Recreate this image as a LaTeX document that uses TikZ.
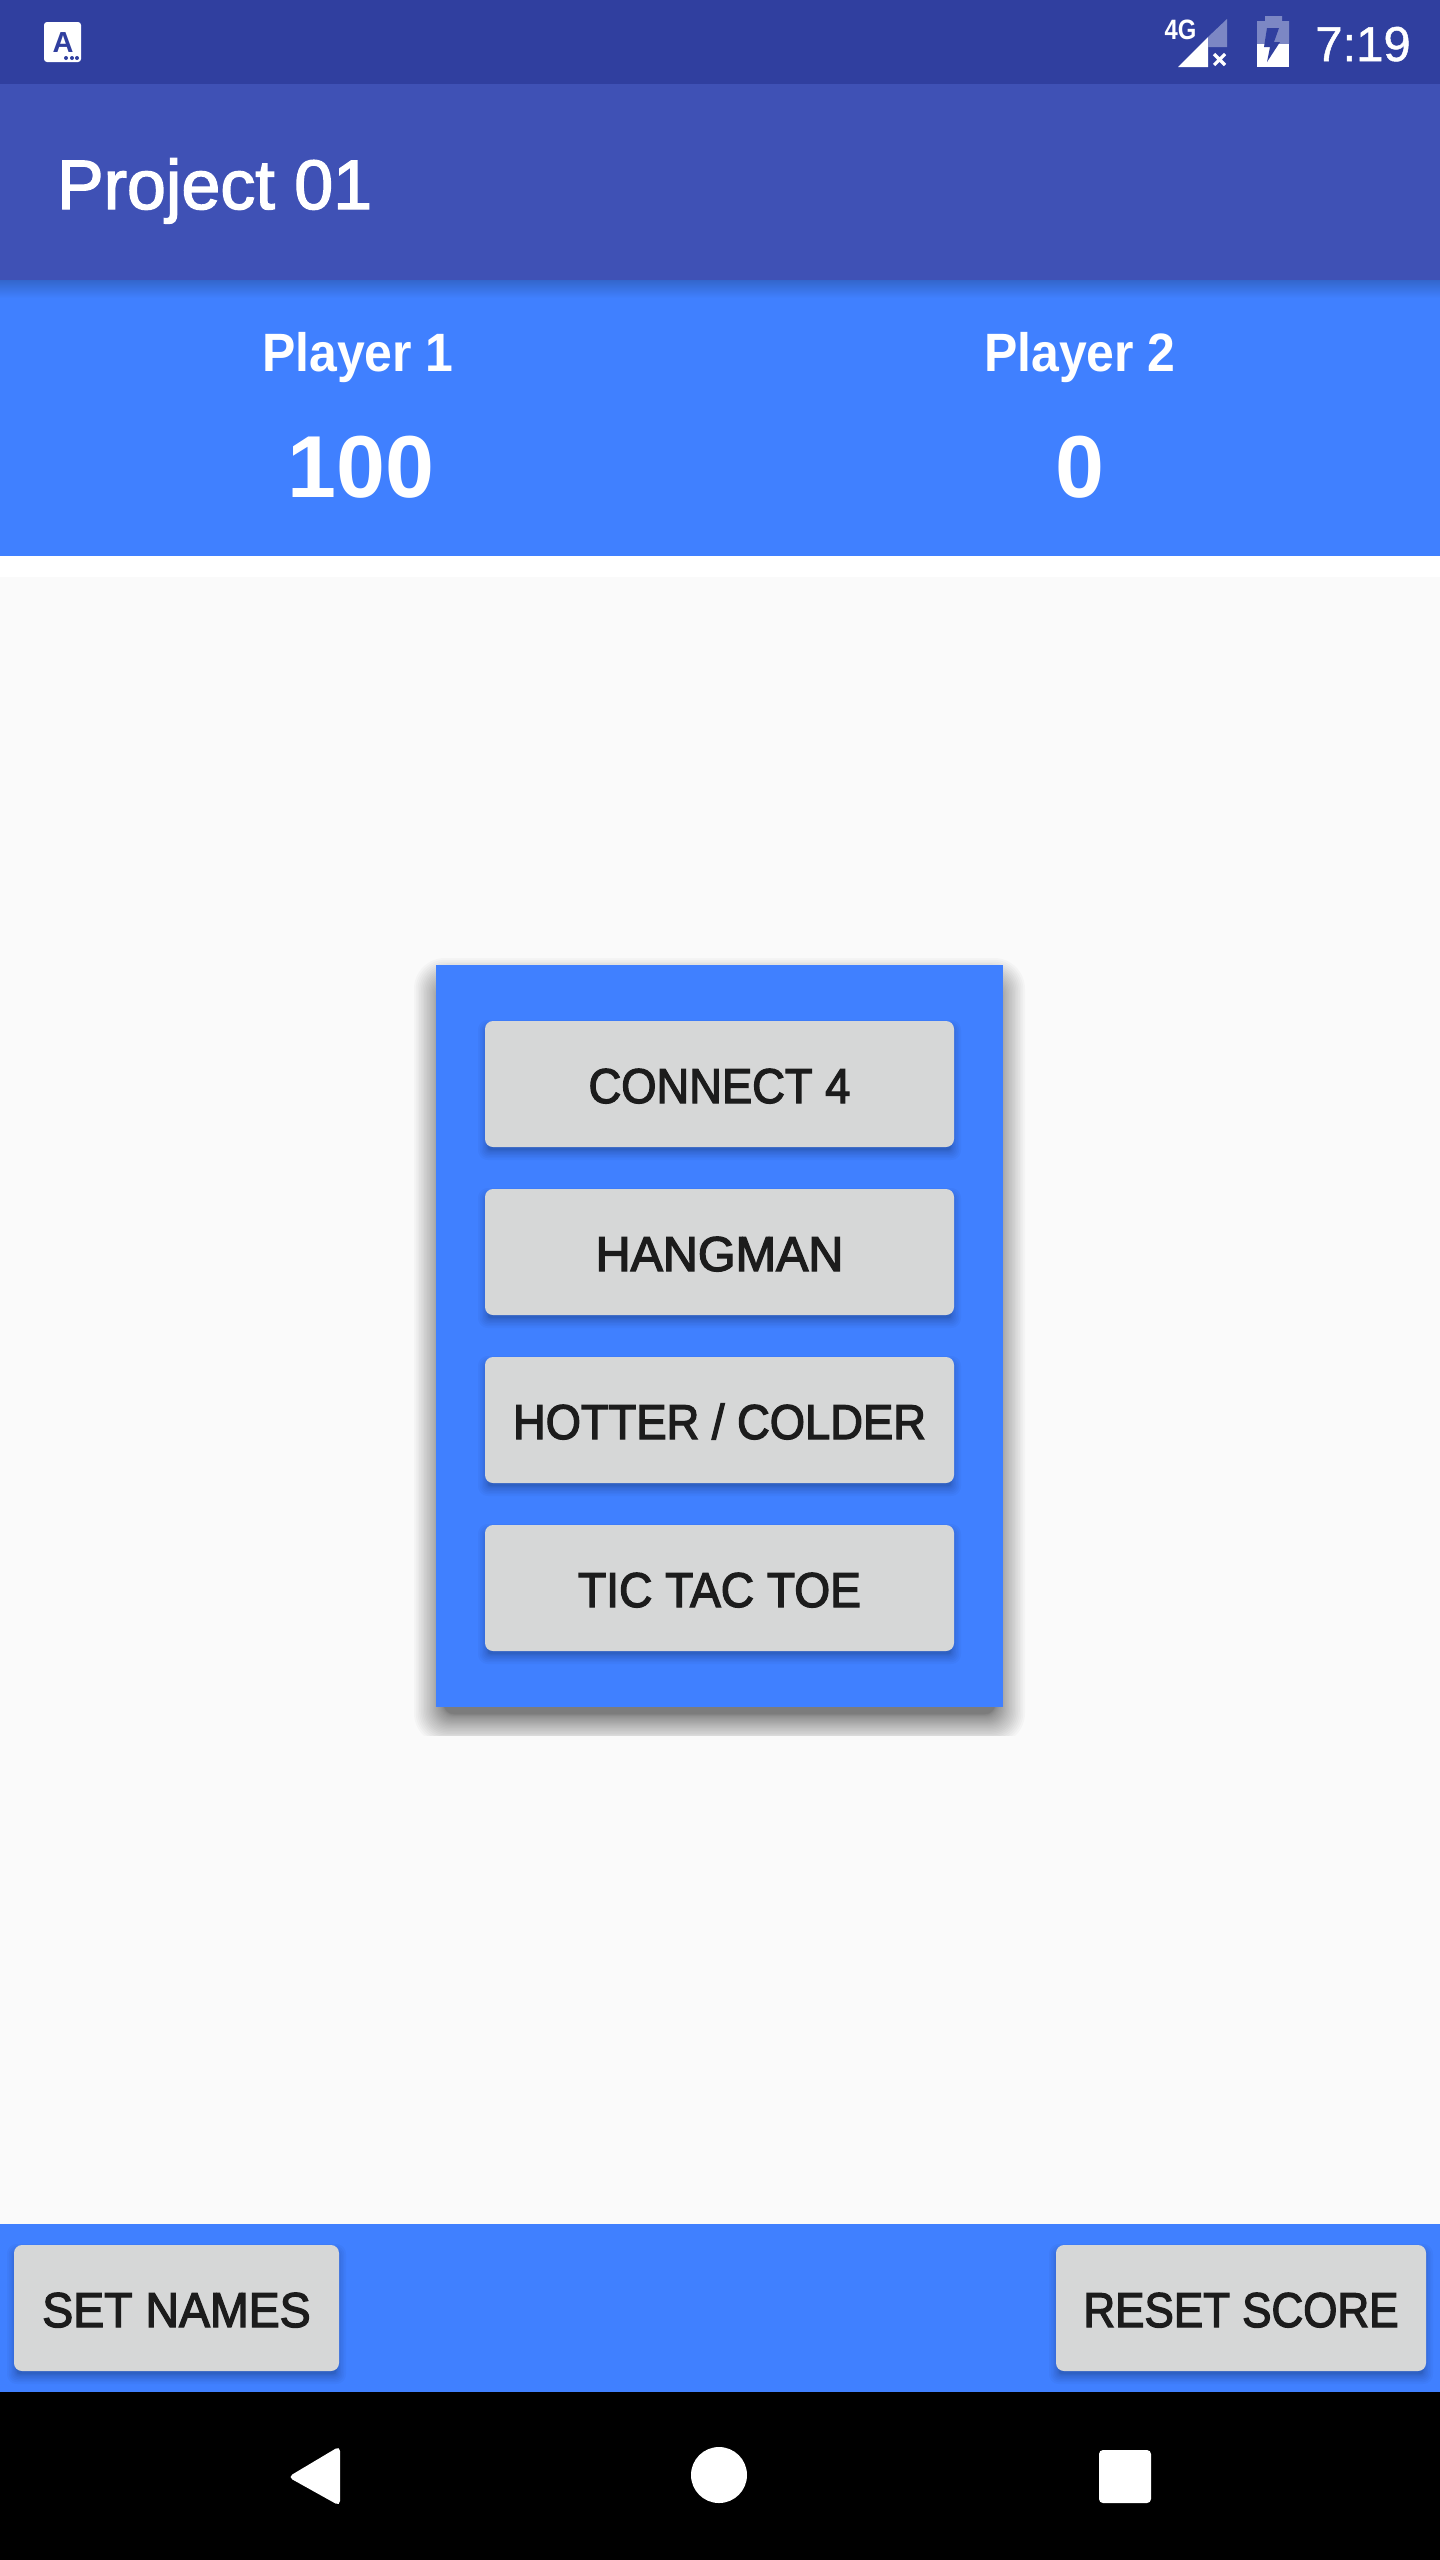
\documentclass[tikz,border=0pt]{standalone}
\usepackage{fontspec}
\setmainfont{Liberation Sans}
\newfontfamily\medfont[FakeBold=2.6,FakeStretch=0.925]{Liberation Sans}
\newfontfamily\titlefont[FakeBold=2.0]{Liberation Sans}
\newfontfamily\namefont[FakeStretch=0.925]{Liberation Sans Bold}
\newfontfamily\boldfont{Liberation Sans Bold}
\newfontfamily\regfont[FakeBold=1.0]{Liberation Sans}
\definecolor{statusbar}{HTML}{303F9F}
\definecolor{appbar}{HTML}{3F51B5}
\definecolor{accentblue}{HTML}{4080FF}
\definecolor{btngray}{HTML}{D6D7D7}
\definecolor{btntext}{HTML}{1C1C1C}
\definecolor{pagebg}{HTML}{FAFAFA}
\definecolor{iconfade}{HTML}{7C87C4}
\tikzset{
  x=1pt,y=-1pt,
  band/.style={fill=#1,draw=none},
  btnshape/.style={fill=btngray,draw=none,rounded corners=8pt},
  label/.style={anchor=base,inner sep=0pt,outer sep=0pt,text=#1},
  btnlabel/.style={label=btntext,font=\medfont\fontsize{49}{49}\selectfont},
}
% softshadow{x1}{y1}{x2}{y2}{outer}{inner}{yoffset}{layers}{opacity}
\newcommand{\softshadow}[9]{%
  \foreach \i in {1,...,#8}{%
    \pgfmathsetmacro{\e}{#6+(#5-(#6))*(1-(\i-1)/(#8-1))^1.5}%
    \pgfmathsetmacro{\rr}{max(2,0.7*(\e+#5))}%
    \fill[black,opacity=#9,rounded corners=\rr pt]
      (#1-\e,#2-\e+#7) rectangle (#3+\e,#4+\e+#7);
  }%
}
% gamebutton{name}{x1}{y1}{x2}{y2}{text}{xscale}
\newcommand{\gamebutton}[7]{%
  \softshadow{#2}{#3}{#4}{#5}{7}{-3}{6}{9}{0.028}
  \fill[btnshape] (#2,#3) rectangle (#4,#5);
  \node[btnlabel,xscale=#7] (#1) at ({(#2+#4)/2},#5-44) {#6};
}
\begin{document}
\begin{tikzpicture}
\useasboundingbox (0,0) rectangle (1440,2560);
% bands
\fill[band=pagebg] (0,0) rectangle (1440,2560);
\fill[band=accentblue] (0,280) rectangle (1440,556);
\shade[top color=black!20!accentblue,bottom color=accentblue,draw=none] (0,280) rectangle (1440,298);
\fill[band=white] (0,556) rectangle (1440,577);
\fill[band=statusbar] (0,0) rectangle (1440,84);
\fill[band=appbar] (0,84) rectangle (1440,280);
\fill[band=accentblue] (0,2224) rectangle (1440,2392);
\fill[band=black] (0,2392) rectangle (1440,2560);
% status bar left icon
\fill[white,rounded corners=3pt] (44,22) rectangle (81,62);
\node[label=statusbar,font=\boldfont\fontsize{29}{29}\selectfont] (appicon) at (63,52) {A};
\foreach \dotx in {66,72,77} \fill[statusbar] (\dotx,58) circle (2);
% status bar right icons
\node[label=white,font=\boldfont\fontsize{28}{28}\selectfont,xscale=0.85] (netlabel) at (1180.5,39) {4G};
\fill[white] (1178,67) -- (1208,37) -- (1208,67) -- cycle;
\fill[iconfade] (1227,19) -- (1227,47) -- (1208,47) -- (1208,37) -- cycle;
\draw[white,line width=3.2pt] (1214,54) -- (1225,65) (1225,54) -- (1214,65);
\fill[iconfade] (1257,21) -- (1265,21) -- (1265,16) -- (1282,16) -- (1282,21) -- (1289,21) -- (1289,44) -- (1257,44) -- cycle;
\fill[white] (1257,44) rectangle (1289,67);
\fill[statusbar] (1267,28) -- (1279,28) -- (1274,42) -- (1280,42) -- (1267,62) -- (1270,47) -- (1264,47) -- cycle;
\node[label=white,font=\regfont\fontsize{49}{49}\selectfont] (clock) at (1363,61) {7:19};
% app bar
\node[label=white,font=\titlefont\fontsize{70}{70}\selectfont,anchor=base west] (title) at (57,209) {Project 01};
% score header
\node[label=white,font=\namefont\fontsize{54}{54}\selectfont] (p1name) at (358,371) {Player 1};
\node[label=white,font=\namefont\fontsize{54}{54}\selectfont] (p2name) at (1080,371) {Player 2};
\node[label=white,font=\boldfont\fontsize{88}{88}\selectfont] (p1score) at (361,497) {100};
\node[label=white,font=\boldfont\fontsize{88}{88}\selectfont] (p2score) at (1080,497) {0};
% panel
\begin{scope}
\clip (0,577) rectangle (1440,1735);
\softshadow{436}{965}{1003}{1707}{22}{-8}{15}{26}{0.025}
\end{scope}
\fill[band=accentblue] (436,965) rectangle (1003,1707);
\gamebutton{connect}{485}{1021}{954}{1147}{CONNECT 4}{1.0}
\gamebutton{hangman}{485}{1189}{954}{1315}{HANGMAN}{1.07}
\gamebutton{hotter}{485}{1357}{954}{1483}{HOTTER / COLDER}{1.0}
\gamebutton{tictac}{485}{1525}{954}{1651}{TIC TAC TOE}{1.018}
% bottom bar
\gamebutton{setnames}{14}{2245}{339}{2371}{SET NAMES}{1.025}
\gamebutton{reset}{1056}{2245}{1426}{2371}{RESET SCORE}{0.97}
% nav bar
\fill[white,rounded corners=5pt] (340,2446) -- (340,2506) -- (288,2477) -- cycle;
\fill[white] (719,2475) circle (28);
\fill[white,rounded corners=4pt] (1099,2450) rectangle (1151,2503);
\end{tikzpicture}
\end{document}
